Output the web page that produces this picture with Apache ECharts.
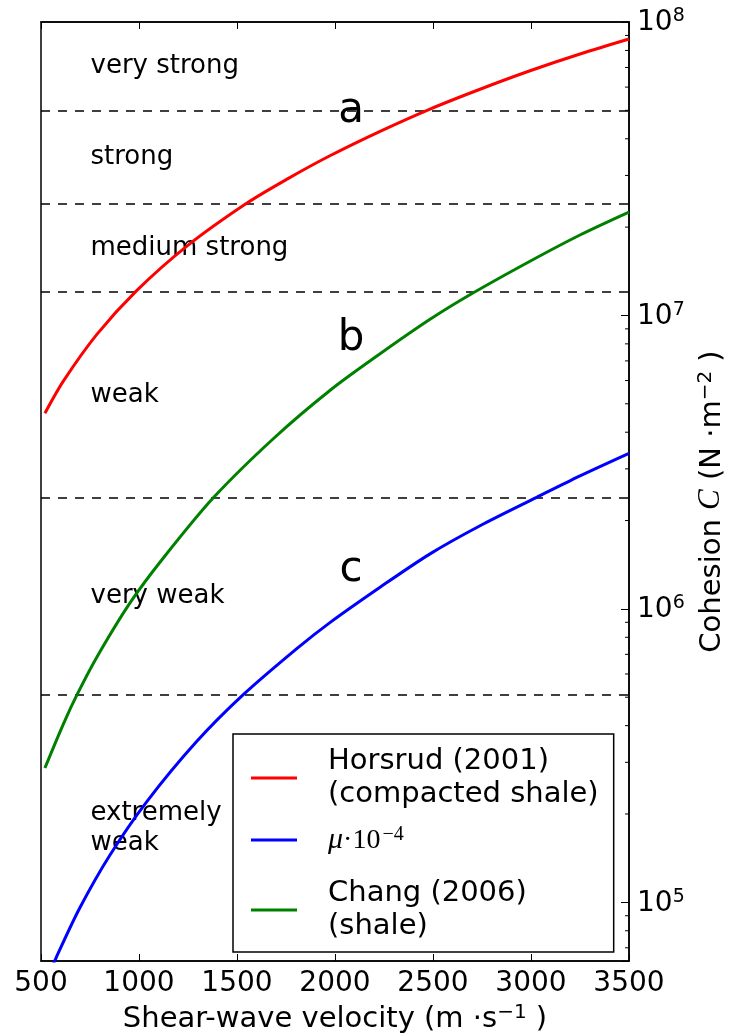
<!DOCTYPE html>
<html><head><meta charset="utf-8">
<script src="https://cdn.jsdelivr.net/npm/echarts@6/dist/echarts.min.js"></script>
<style>html,body{margin:0;padding:0;background:#fff}#c{width:735px;height:1034px}</style>
</head><body><div id="c"></div>
<script>
// ---- data ----
const xTicks = [500, 1000, 1500, 2000, 2500, 3000, 3500];
const horsrudV = [520, 614, 784, 988, 1243, 1549, 1760, 1974, 2230, 2485, 2740, 2995, 3250, 3500];
const horsrudC = [4.64e6, 5.97e6, 8.6e6, 1.215e7, 1.72e7, 2.41e7, 2.925e7, 3.5e7, 4.24e7, 5.05e7, 5.9e7, 6.82e7, 7.78e7, 8.75e7];
const muV = [520, 577, 699, 852, 1039, 1294, 1532, 1805, 1974, 2230, 2485, 2740, 3029, 3250, 3500];
const muC = [5.25e4, 6.47e4, 9.6e4, 1.45e5, 2.2e5, 3.53e5, 5.1e5, 7.32e5, 8.98e5, 1.185e6, 1.54e6, 1.92e6, 2.4e6, 2.84e6, 3.39e6];
const changV = [520, 614, 682, 784, 955, 1124, 1379, 1685, 1974, 2230, 2485, 2697, 2995, 3250, 3500];
const changC = [2.87e5, 4.05e5, 5.07e5, 6.83e5, 1.05e6, 1.49e6, 2.39e6, 3.8e6, 5.55e6, 7.4e6, 9.7e6, 1.185e7, 1.53e7, 1.88e7, 2.25e7];
const thresholds = [5e7, 2.4e7, 1.2e7, 2.4e6, 5.1e5];
const classNames = ['very strong', 'strong', 'medium strong', 'weak', 'very weak', 'extremely\nweak'];
const yMin = 63096, yMax = 1e8;
const xMin = 500, xMax = 3500;

// ---- chart ----
const FONT = 'DejaVu Sans';
const zip = (a, b) => a.map((v, i) => [v, b[i]]);
const bounds = [yMax].concat(thresholds, [yMin]);
const classLabelX = 750;
const minorVals = [];
[4, 5, 6, 7].forEach(d => { for (let k = 2; k <= 9; k++) { const v = k * Math.pow(10, d); if (v >= yMin && v <= yMax) minorVals.push(v); } });

const supRich = {
  b: {fontFamily: FONT, fontSize: 28, color: '#000', lineHeight: 30, verticalAlign: 'bottom'},
  s: {fontFamily: FONT, fontSize: 19, color: '#000', lineHeight: 20, padding: [0, 0, 20, 0], verticalAlign: 'top'}
};
const nameRich = {
  b: {fontFamily: FONT, fontSize: 29, color: '#000', lineHeight: 31, verticalAlign: 'bottom'},
  s: {fontFamily: FONT, fontSize: 20, color: '#000', lineHeight: 20, padding: [0, 0, 21, 0], verticalAlign: 'top'},
  c: {fontFamily: 'Liberation Serif', fontStyle: 'italic', fontSize: 31, color: '#000', lineHeight: 31, verticalAlign: 'bottom'}
};
const legendText = {
  'Horsrud': 'Horsrud (2001)\n(compacted shale)',
  'mu': '{m|μ}{d|·10}{p|−4}',
  'Chang': 'Chang (2006)\n(shale)'
};

const chart = echarts.init(document.getElementById('c'));
chart.setOption({
  animation: false,
  backgroundColor: '#fff',
  grid: {left: 41, right: 106, top: 22, bottom: 73, show: true, borderColor: '#000', borderWidth: 1.5,
         backgroundColor: 'transparent', containLabel: false, outerBoundsMode: 'none'},
  xAxis: [{
    type: 'value', min: xMin, max: xMax, interval: 500,
    axisLine: {show: true, lineStyle: {color: '#000', width: 1.5}},
    axisTick: {show: true, inside: true, length: 7, lineStyle: {color: '#000', width: 1}},
    splitLine: {show: false},
    axisLabel: {fontFamily: FONT, fontSize: 28, color: '#000', margin: 9, formatter: v => String(v)},
    name: '{b|Shear-wave velocity (m ·s}{s|−1}{b| )}',
    nameLocation: 'middle', nameGap: 37,
    nameTextStyle: {rich: nameRich}
  }, {
    type: 'value', min: xMin, max: xMax, interval: 500, position: 'top',
    axisLine: {show: true, lineStyle: {color: '#000', width: 1.5}},
    axisTick: {show: true, inside: true, length: 7, lineStyle: {color: '#000', width: 1}},
    splitLine: {show: false}, axisLabel: {show: false}
  }],
  yAxis: {
    type: 'log', logBase: 10, min: yMin, max: yMax, position: 'right',
    axisLine: {show: true, lineStyle: {color: '#000', width: 1.5}},
    axisTick: {show: true, inside: true, length: 8, lineStyle: {color: '#000', width: 1}},
    splitLine: {show: false},
    axisLabel: {
      margin: 8, rich: supRich,
      formatter: v => { const e = Math.log10(v); const r = Math.round(e); if (Math.abs(e - r) > 1e-6) return ''; return '{b|10}{s|' + r + '}'; }
    },
    name: '{b|Cohesion }{c|C}{b| (N ·m}{s|−2}{b| )}',
    nameLocation: 'middle', nameGap: 57, nameRotate: 90,
    nameTextStyle: {rich: nameRich, padding: [0, 20, 0, 0]}
  },
  legend: {
    orient: 'vertical', left: 233, top: 734,
    padding: [11, 15, 9, 18], itemGap: 14, itemWidth: 46, itemHeight: 3, icon: 'rect',
    borderColor: '#000', borderWidth: 1.5, backgroundColor: '#fff',
    data: ['Horsrud', 'mu', 'Chang'],
    formatter: n => legendText[n],
    textStyle: {
      fontFamily: FONT, fontSize: 29, color: '#000', lineHeight: 33, padding: [0, 0, 0, 26],
      rich: {
        m: {fontFamily: 'Liberation Serif', fontStyle: 'italic', fontSize: 30, color: '#000', lineHeight: 30, verticalAlign: 'bottom'},
        d: {fontFamily: 'Liberation Serif', fontSize: 28, color: '#000', lineHeight: 30, verticalAlign: 'bottom'},
        p: {fontFamily: 'Liberation Serif', fontSize: 20, color: '#000', lineHeight: 20, padding: [0, 0, 18, 2], verticalAlign: 'top'}
      }
    }
  },
  graphic: [
    {type: 'text', x: 351, y: 111, style: {text: 'a', font: '42px "DejaVu Sans"', fill: '#000', align: 'center', verticalAlign: 'middle'}, z: 100},
    {type: 'text', x: 351, y: 339, style: {text: 'b', font: '42px "DejaVu Sans"', fill: '#000', align: 'center', verticalAlign: 'middle'}, z: 100},
    {type: 'text', x: 351, y: 570, style: {text: 'c', font: '42px "DejaVu Sans"', fill: '#000', align: 'center', verticalAlign: 'middle'}, z: 100}
  ],
  series: [
    {
      type: 'line', name: 'Horsrud', data: zip(horsrudV, horsrudC), smooth: 0.3, showSymbol: false,
      lineStyle: {color: '#ff0000', width: 3}, itemStyle: {color: '#ff0000'}, z: 5,
      markLine: {
        silent: true, symbol: ['none', 'none'], label: {show: false}, animation: false,
        lineStyle: {color: '#000', width: 1.5, type: [9, 8]},
        data: thresholds.map(v => ({yAxis: v}))
      }
    },
    {
      type: 'line', name: 'mu', data: zip(muV, muC), smooth: 0.3, showSymbol: false, clip: true,
      lineStyle: {color: '#0000ff', width: 3}, itemStyle: {color: '#0000ff'}, z: 5
    },
    {
      type: 'line', name: 'Chang', data: zip(changV, changC), smooth: 0.3, showSymbol: false,
      lineStyle: {color: '#008000', width: 3}, itemStyle: {color: '#008000'}, z: 5
    },
    {
      type: 'scatter', name: 'classes', silent: true, symbolSize: 1, itemStyle: {color: 'rgba(0,0,0,0)', opacity: 1},
      data: classNames.map((n, i) => ({name: n, value: [classLabelX, Math.sqrt(bounds[i] * bounds[i + 1])]})),
      label: {show: true, position: 'right', distance: 0, formatter: '{b}', fontFamily: FONT, fontSize: 26, color: '#000', opacity: 1, lineHeight: 30, align: 'left'}
    },
    {
      type: 'custom', name: 'minorTicks', silent: true, z: 10,
      data: minorVals.map(v => [xMax, v]),
      renderItem: (params, api) => {
        const p = api.coord([api.value(0), api.value(1)]);
        return {type: 'line', shape: {x1: p[0] - 4, y1: p[1], x2: p[0], y2: p[1]}, style: {stroke: '#000', lineWidth: 1}};
      }
    }
  ]
});
</script>
</body></html>
